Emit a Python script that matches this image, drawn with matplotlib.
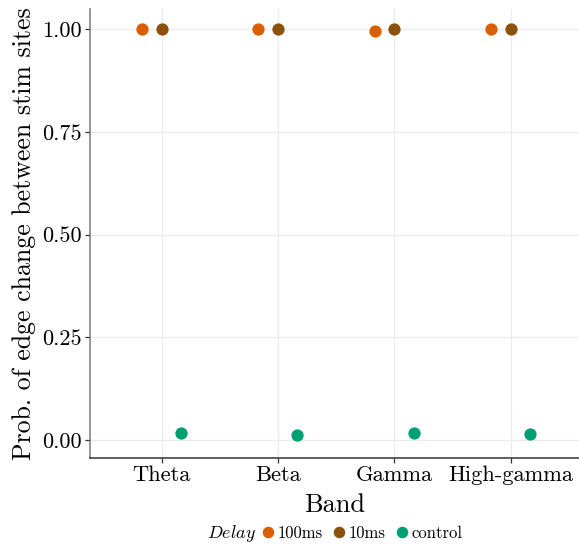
import matplotlib
matplotlib.use("Agg")
import matplotlib.pyplot as plt
from matplotlib.lines import Line2D
import numpy as np

bands = ["Theta", "Beta", "Gamma", "High-gamma"]
delays = ["100ms", "10ms", "control"]
vals_100ms = [1.0, 1.0, 0.995, 1.0]
vals_10ms = [1.0, 1.0, 1.0, 1.0]
vals_control = [0.018, 0.011, 0.018, 0.015]
colors = {"100ms": "#D95F02", "10ms": "#8C510A", "control": "#009E73"}
yticks = [0.00, 0.25, 0.50, 0.75, 1.00]
ytick_labels = ["0.00", "0.25", "0.50", "0.75", "1.00"]

plt.rcParams["font.family"] = ["cmr10", "DejaVu Serif"]
plt.rcParams["mathtext.fontset"] = "cm"
plt.rcParams["axes.unicode_minus"] = False

W, H = 579, 546
fig = plt.figure(figsize=(W / 100, H / 100), dpi=100)
ax = fig.add_axes([90 / W, (H - 458) / H, 1 - 90 / W, (458 - 9) / H])

x = np.arange(1, len(bands) + 1)
offsets = {"100ms": -0.17, "10ms": 0.0, "control": 0.165}
series = {"100ms": vals_100ms, "10ms": vals_10ms, "control": vals_control}
for d in delays:
    ax.scatter(x + offsets[d], series[d], s=78, color=colors[d], zorder=3,
               linewidths=0)

ax.set_xlim(0.385, 4.585)
ax.set_ylim(-0.0438, 1.0487)
ax.set_xticks(x)
ax.set_xticklabels(bands, fontsize=16.2)
ax.set_yticks(yticks)
ax.set_yticklabels(ytick_labels, fontsize=16.0)
ax.grid(True, color="#EBEBEB", linewidth=0.9, zorder=0)
ax.set_axisbelow(True)
for sp in ["top", "right"]:
    ax.spines[sp].set_visible(False)
ax.spines["left"].set_color("#7A7A7A")
ax.spines["bottom"].set_color("#333333")
ax.spines["left"].set_linewidth(1.1)
ax.spines["bottom"].set_linewidth(1.1)
ax.tick_params(axis="both", length=3.5, width=0.9, color="#333333", pad=2.5)
ax.tick_params(axis="x", pad=2.0)

ax.set_xlabel("Band", fontsize=19, labelpad=6)
ax.set_ylabel("Prob. of edge change between stim sites", fontsize=18.6, labelpad=4.5)

fig.text(232 / W, 1 - 533 / H, r"$Delay$", fontsize=13, ha="center", va="center")
handles = [Line2D([], [], marker="o", linestyle="", markersize=8.3,
                  markerfacecolor=colors[d], markeredgewidth=0) for d in delays]
fig.legend(handles, delays, loc="center left", bbox_to_anchor=(263 / W, 1 - 533 / H),
           ncol=3, frameon=False, fontsize=12.0, handlelength=0.55,
           handletextpad=0.3, columnspacing=0.72, borderpad=0, borderaxespad=0)

fig.savefig("out.png", dpi=100)
